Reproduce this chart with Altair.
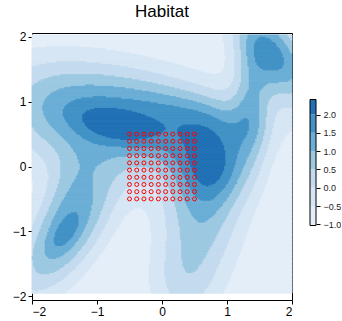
import numpy as np
import pandas as pd
import altair as alt

# Habitat surface: baseline plus a set of elliptical Gaussian bumps
BASE = -1.0
bump_cx = [-0.65, -0.90, 0.80, 0.05, 0.62, 0.35, 1.72, 1.38, 0.55, -1.48, -1.48, -1.40, -1.85, -0.50]
bump_cy = [0.60, 0.68, 0.06, 0.25, -0.70, -1.80, 1.75, 1.00, 0.75, -1.02, -1.02, -0.20, 0.65, 1.10]
bump_amp = [0.9, 1.9, 2.0, 0.3, 1.7, 1.0, 2.6, 1.3, 1.1, 2.3, 0.5, 0.6, 0.4, 0.8]
bump_su = [0.50, 1.00, 0.42, 0.35, 0.65, 0.50, 0.60, 0.60, 0.70, 0.80, 0.20, 0.50, 0.50, 1.50]
bump_sv = [0.20, 0.55, 0.42, 0.30, 0.45, 0.40, 0.32, 0.20, 0.30, 0.36, 0.10, 0.28, 0.60, 0.45]
bump_ang = [-15, -12, 0, 0, 85, 80, -55, 90, -10, 55, 55, 67, 0, -8]

# contour levels and fill colours (lowest band first)
LEVELS = [-0.5, 0.0, 0.5, 1.0, 1.5, 2.0]
PALETTE = ["#e4eef9", "#d6e6f4", "#c4dbef", "#9cc9e1", "#6baed6", "#4292c6", "#2171b5"]
LEG_MIN, LEG_MAX = -1.03, 2.41
LEG_TICKS = [-1.0, -0.5, 0.0, 0.5, 1.0, 1.5, 2.0]

# sample grid locations
grid_x = list(np.round(np.linspace(-0.5, 0.5, 10), 4))
grid_y = list(np.round(np.linspace(-0.5, 0.5, 10), 4))


def habitat(x, y):
    z = np.full_like(x, BASE)
    for cx, cy, a, s1, s2, ang in zip(bump_cx, bump_cy, bump_amp, bump_su, bump_sv, bump_ang):
        t = np.deg2rad(ang)
        u = (x - cx) * np.cos(t) + (y - cy) * np.sin(t)
        v = -(x - cx) * np.sin(t) + (y - cy) * np.cos(t)
        z = z + a * np.exp(-0.5 * ((u / s1) ** 2 + (v / s2) ** 2))
    return z


NX, NY = 200, 200
xe = np.linspace(-2, 2, NX + 1)
ye = np.linspace(-1.955, 2.03, NY + 1)
xc = (xe[:-1] + xe[1:]) / 2
yc = (ye[:-1] + ye[1:]) / 2
XX, YY = np.meshgrid(xc, yc)
band = np.digitize(habitat(XX, YY), LEVELS)

# merge horizontal runs of equal band into single rectangles
rows = []
for j in range(NY):
    r = band[j]
    start = 0
    for i in range(1, NX + 1):
        if i == NX or r[i] != r[start]:
            rows.append({"x0": xe[start], "x1": xe[i], "y0": ye[j], "y1": ye[j + 1],
                         "band": int(r[start])})
            start = i
field = pd.DataFrame(rows)

pts = pd.DataFrame([(gx, gy) for gy in grid_y for gx in grid_x], columns=["x", "y"])

band_ids = list(range(len(PALETTE)))
cscale = alt.Scale(domain=band_ids, range=PALETTE)
xscale = alt.Scale(domain=[-2, 2], nice=False, zero=False)
yscale = alt.Scale(domain=[-2.06, 2.06], nice=False, zero=False)
ax_common = dict(values=[-2, -1, 0, 1, 2], format="d", grid=False, domain=False,
                 tickColor="black", tickSize=4, labelColor="black", labelFontSize=12,
                 labelFont="Liberation Sans", title=None, labelPadding=2)

surf = alt.Chart(field).mark_rect(strokeWidth=1).encode(
    x=alt.X("x0:Q", scale=xscale, axis=alt.Axis(**ax_common)),
    x2="x1",
    y=alt.Y("y0:Q", scale=yscale, axis=alt.Axis(**ax_common)),
    y2="y1",
    color=alt.Color("band:O", scale=cscale, legend=None),
    stroke=alt.Stroke("band:O", scale=cscale, legend=None),
)

dots = alt.Chart(pts).mark_point(shape="circle", filled=False, color="#ff0000",
                                 strokeWidth=1, size=16, opacity=1).encode(
    x=alt.X("x:Q", scale=xscale), y=alt.Y("y:Q", scale=yscale))

main = alt.layer(surf, dots).properties(
    width=260, height=267,
    title=alt.Title("Habitat", fontSize=17, fontWeight="normal", font="Liberation Sans",
                    color="black", offset=10),
)

# colour key: stacked bands with tick labels on the right
lev_lo = [LEG_MIN] + LEVELS
lev_hi = LEVELS + [LEG_MAX]
key = pd.DataFrame({"lo": lev_lo, "hi": lev_hi, "band": band_ids})
kscale = alt.Scale(domain=[-3.064, 4.225], nice=False, zero=False)
key_bands = alt.Chart(key).mark_rect().encode(
    x=alt.value(0), x2=alt.value(6),
    y=alt.Y("lo:Q", scale=kscale,
            axis=alt.Axis(orient="right", values=LEG_TICKS, format=".1f", grid=False,
                          domain=False, tickColor="black", tickSize=4, labelColor="#222",
                          labelFontSize=9, labelFont="Liberation Sans", title=None,
                          labelPadding=3)),
    y2="hi",
    color=alt.Color("band:O", scale=cscale, legend=None),
)
key_frame = alt.Chart(pd.DataFrame({"lo": [LEG_MIN], "hi": [LEG_MAX]})).mark_rect(
    fill="transparent", stroke="black", strokeWidth=1).encode(
    x=alt.value(0), x2=alt.value(6), y=alt.Y("lo:Q", scale=kscale), y2="hi")
legend = alt.layer(key_bands, key_frame).properties(
    width=6, height=267, view=alt.ViewBackground(strokeOpacity=0))

chart = alt.hconcat(main, legend, spacing=16).properties(
    padding={"left": 11, "top": 2, "right": 0, "bottom": 2}
).configure_view(stroke="black", strokeWidth=1).configure_concat(spacing=16)

chart.save("out.html", embed_options={"renderer": "svg", "actions": False})
